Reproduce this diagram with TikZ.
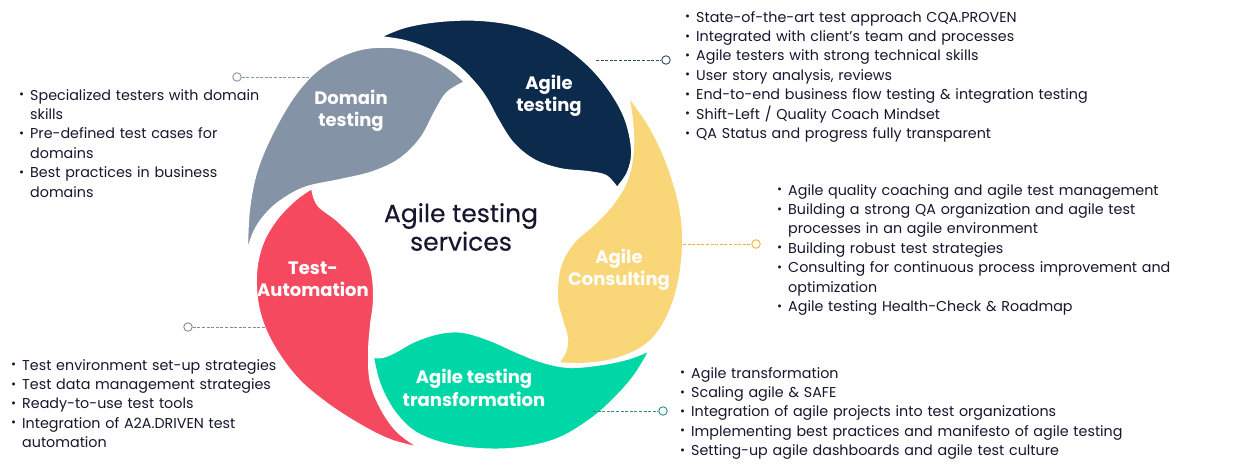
\documentclass[tikz,border=0pt]{standalone}
\usepackage{fontspec}
\usepackage{graphicx}
\newfontfamily\listfont{Poppins}
\newfontfamily\labelfont{Poppins}
\newfontfamily\centerfont{Poppins}[FakeBold=0.4]
\definecolor{navy}{HTML}{0C2A4C}
\definecolor{slate}{HTML}{8593A6}
\definecolor{sun}{HTML}{F9D677}
\definecolor{rose}{HTML}{F5495F}
\definecolor{mint}{HTML}{00D7A6}
\definecolor{ink}{HTML}{16162E}
\definecolor{navyline}{HTML}{2E4E63}
\definecolor{slateline}{HTML}{8095AA}
\definecolor{sunline}{HTML}{F0B232}
\definecolor{greyline}{HTML}{8A8A8A}
\definecolor{mintline}{HTML}{2E8A8C}
\newcommand{\bi}[1]{\noindent\hangindent=11pt\hangafter=1\makebox[11pt][l]{\raisebox{1.4pt}{\scalebox{0.85}{\textbullet}}}#1\par}
\begin{document}
\begin{tikzpicture}[x=1pt,y=-1pt,
  petal/.style={draw=white, line width=2pt, line join=round},
  plabel/.style={text=white, align=center, inner sep=0,
    font=\labelfont\bfseries\fontsize{18}{22.5}\selectfont},
  blist/.style={anchor=base west, inner sep=0, text width=480pt, align=left,
    text=ink, font=\listfont\fontsize{14.3}{19.4}\selectfont},
  conn/.style={line width=0.9pt, dash pattern=on 3pt off 1.6pt},
  cdot/.style={circle, draw, fill=white, line width=0.9pt, minimum size=8.5pt, inner sep=0}]
\useasboundingbox (0,0) rectangle (1236,472);

% Agile testing (navy)
\fill[navy, petal] plot[smooth, tension=0.6] coordinates {(380,37) (405,27) (440,21) (480,20) (520,26) (555,40) (585,62) (608,88) (625,118) (632,150) (628,172) (617,188)}
  -- plot[smooth, tension=0.6] coordinates {(617,188) (606,176) (588,172) (560,169) (534,160) (513,143) (498,120) (486,98) (473,81) (455,64) (430,50) (405,41) (380,37)} -- cycle;
% Domain testing (slate)
\fill[slate, petal] plot[smooth, tension=0.6] coordinates {(465,82) (447,67) (420,53) (390,47) (357,50) (323,66) (297,92) (274,130) (257,170) (249,210) (247,253)}
  -- plot[smooth, tension=0.6] coordinates {(247,253) (255,230) (268,212) (285,198) (307,187) (340,180) (373,172) (400,159) (421,138) (435,112) (447,93) (465,82)} -- cycle;
% Agile Consulting (sun)
\fill[sun, petal] plot[smooth, tension=0.6] coordinates {(628,95) (650,127) (667,163) (680,207) (683,247) (677,290) (663,325) (643,347) (612,360) (580,364) (558,363)}
  -- plot[smooth, tension=0.6] coordinates {(558,363) (565,352) (567,338) (562,320) (557,298) (560,267) (573,243) (593,225) (612,205) (627,180) (633,150) (632,120) (628,95)} -- cycle;
% Agile testing transformation (mint)
\fill[mint, petal] plot[smooth, tension=0.6] coordinates {(373,357) (380,385) (396,414) (420,435) (460,447) (510,449) (555,440) (590,420) (615,398) (635,375) (650,350)}
  -- plot[smooth, tension=0.6] coordinates {(650,350) (630,358) (603,364) (570,367) (543,362) (517,352) (490,340) (463,332) (440,333) (415,341) (395,352) (383,357) (373,357)} -- cycle;
% Test-Automation (rose)
\fill[rose, petal] plot[smooth, tension=0.6] coordinates {(312,188) (295,200) (276,220) (262,245) (256,275) (259,310) (272,343) (296,377) (326,403) (360,425) (390,440) (420,448)}
  -- plot[smooth, tension=0.6] coordinates {(420,448) (398,432) (382,410) (371,383) (369,353) (371,325) (374,298) (371,268) (358,242) (338,221) (318,205) (312,188)} -- cycle;

% petal labels
\node[plabel] (lnavy) at (549,96) {Agile\\testing};
\node[plabel] (lslate) at (351,111) {Domain\\testing};
\node[plabel] (lrose) at (313,279) {Test-\\Automation};
\node[plabel] (lsun) at (619,270) {Agile\\Consulting};
\node[plabel] (lmint) at (474,388) {Agile testing\\transformation};
\node[text=ink, align=center, inner sep=0, font=\centerfont\fontsize{25}{28.5}\selectfont] (center) at (461,227) {Agile testing\\services};

% connectors
\node[cdot, draw=slateline] (dslate) at (237,77) {};
\coordinate (eslate) at (315,77);
\draw[conn, slateline] (dslate) -- (eslate);
\node[cdot, draw=navyline] (dnavy) at (666,60) {};
\coordinate (enavy) at (596,60);
\draw[conn, navyline] (enavy) -- (dnavy);
\node[cdot, draw=sunline] (dsun) at (756,244) {};
\coordinate (esun) at (683,244);
\draw[conn, sunline] (esun) -- (dsun);
\node[cdot, draw=greyline] (drose) at (188,327) {};
\coordinate (erose) at (265,327);
\draw[conn, greyline] (drose) -- (erose);
\node[cdot, draw=mintline] (dmint) at (663,411) {};
\coordinate (emint) at (593,411);
\draw[conn, mintline] (emint) -- (dmint);

% lists
\node[blist] (tslate) at (19,100) {%
\bi{Specialized testers with domain\newline skills}%
\bi{Pre-defined test cases for\newline domains}%
\bi{Best practices in business\newline domains}};
\node[blist] (tnavy) at (685,22) {%
\bi{State-of-the-art test approach CQA.PROVEN}%
\bi{Integrated with client’s team and processes}%
\bi{Agile testers with strong technical skills}%
\bi{User story analysis, reviews}%
\bi{End-to-end business flow testing \& integration testing}%
\bi{Shift-Left / Quality Coach Mindset}%
\bi{QA Status and progress fully transparent}};
\node[blist] (tsun) at (777,195) {%
\bi{Agile quality coaching and agile test management}%
\bi{Building a strong QA organization and agile test\newline processes in an agile environment}%
\bi{Building robust test strategies}%
\bi{Consulting for continuous process improvement and\newline optimization}%
\bi{Agile testing Health-Check \& Roadmap}};
\node[blist] (trose) at (11,370) {%
\bi{Test environment set-up strategies}%
\bi{Test data management strategies}%
\bi{Ready-to-use test tools}%
\bi{Integration of A2A.DRIVEN test\newline automation}};
\node[blist] (tmint) at (680,378) {%
\bi{Agile transformation}%
\bi{Scaling agile \& SAFE}%
\bi{Integration of agile projects into test organizations}%
\bi{Implementing best practices and manifesto of agile testing}%
\bi{Setting-up agile dashboards and agile test culture}};
\end{tikzpicture}
\end{document}
